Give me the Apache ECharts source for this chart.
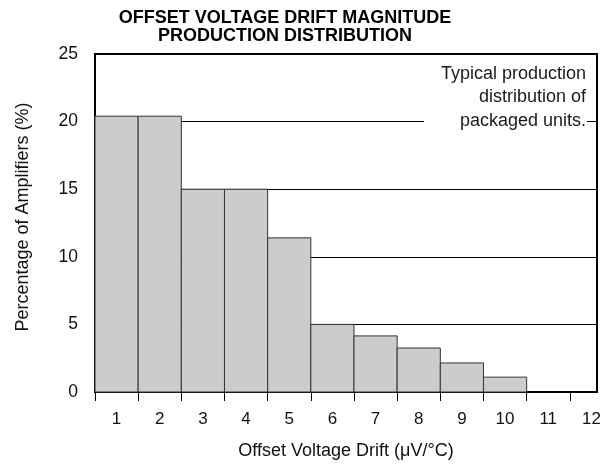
<!DOCTYPE html>
<html>
<head>
<meta charset="utf-8">
<script src="https://cdn.jsdelivr.net/npm/echarts@6/dist/echarts.min.js"></script>
<style>
html,body{margin:0;padding:0;background:#fff;}
#chart{width:614px;height:465px;}
</style>
</head>
<body>
<div id="chart"></div>
<script>
// ---- data ----
var categories = ['1','2','3','4','5','6','7','8','9','10','11','12'];
var percentages = [20.4, 20.4, 15.0, 15.0, 11.4, 5.0, 4.15, 3.25, 2.15, 1.1, 0, 0];
var yTicks = [0, 5, 10, 15, 20, 25];
var titleText = 'OFFSET VOLTAGE DRIFT MAGNITUDE\nPRODUCTION DISTRIBUTION';
var noteText = 'Typical production\ndistribution of\npackaged units.';
var xName = 'Offset Voltage Drift (\u03BCV/\u00B0C)';
var yName = 'Percentage of Amplifiers (%)';

var FONT = 'Liberation Sans, Arial, Helvetica, sans-serif';
var chart = echarts.init(document.getElementById('chart'), null, {renderer: 'canvas'});

var barData = categories.map(function (c, i) { return [i + 1, percentages[i]]; });

chart.setOption({
  animation: false,
  backgroundColor: '#ffffff',
  title: [{
    text: titleText,
    left: 285,
    top: 9,
    padding: 0,
    textAlign: 'center',
    textStyle: {fontFamily: FONT, fontSize: 18, fontWeight: 'bold', color: '#000', lineHeight: 18}
  }, {
    text: noteText,
    left: 569,
    top: 60,
    padding: [2, 1, 2, 17],
    textAlign: 'right',
    backgroundColor: '#ffffff',
    textStyle: {fontFamily: FONT, fontSize: 18, fontWeight: 'normal', color: '#1a1a1a', lineHeight: 23.5}
  }],
  grid: {
    left: 95, right: 17, top: 54, bottom: 71,
    show: true, borderColor: '#000', borderWidth: 2, backgroundColor: 'transparent'
  },
  xAxis: {
    type: 'value',
    min: 0,
    max: 11.63,
    interval: 1,
    name: xName,
    nameLocation: 'middle',
    nameGap: 50,
    nameTextStyle: {fontFamily: FONT, fontSize: 18, color: '#111'},
    axisLine: {show: true, lineStyle: {color: '#000', width: 2}},
    axisTick: {show: true, length: 9, inside: false, lineStyle: {color: '#000', width: 1},
      customValues: categories.map(function (c, i) { return i; })},
    axisLabel: {
      show: true, margin: 19, fontFamily: FONT, fontSize: 17, color: '#111',
      customValues: categories.map(function (c, i) { return i + 0.5; }),
      formatter: function (v) { return categories[Math.round(v - 0.5)] || ''; }
    },
    splitLine: {show: false}
  },
  yAxis: {
    type: 'value',
    min: yTicks[0],
    max: yTicks[yTicks.length - 1],
    interval: yTicks[1] - yTicks[0],
    name: yName,
    nameLocation: 'middle',
    nameGap: 63,
    nameTextStyle: {fontFamily: FONT, fontSize: 18, color: '#111', padding: [0, 0, 0, 12]},
    axisLine: {show: true, lineStyle: {color: '#000', width: 2}},
    axisTick: {show: false},
    axisLabel: {margin: 17, fontFamily: FONT, fontSize: 17.5, color: '#111'},
    splitLine: {show: true, lineStyle: {color: '#000', width: 1}}
  },
  series: [{
    type: 'custom',
    data: barData,
    encode: {x: 0, y: 1},
    renderItem: function (params, api) {
      var right = api.value(0);
      var v = api.value(1);
      if (!v) { return null; }
      var p0 = api.coord([right - 1, v]);
      var p1 = api.coord([right, 0]);
      return {
        type: 'rect',
        shape: {x: p0[0], y: p0[1], width: p1[0] - p0[0], height: p1[1] - p0[1]},
        style: {fill: '#cccccc', stroke: '#333333', lineWidth: 1}
      };
    }
  }]
});
</script>
</body>
</html>
